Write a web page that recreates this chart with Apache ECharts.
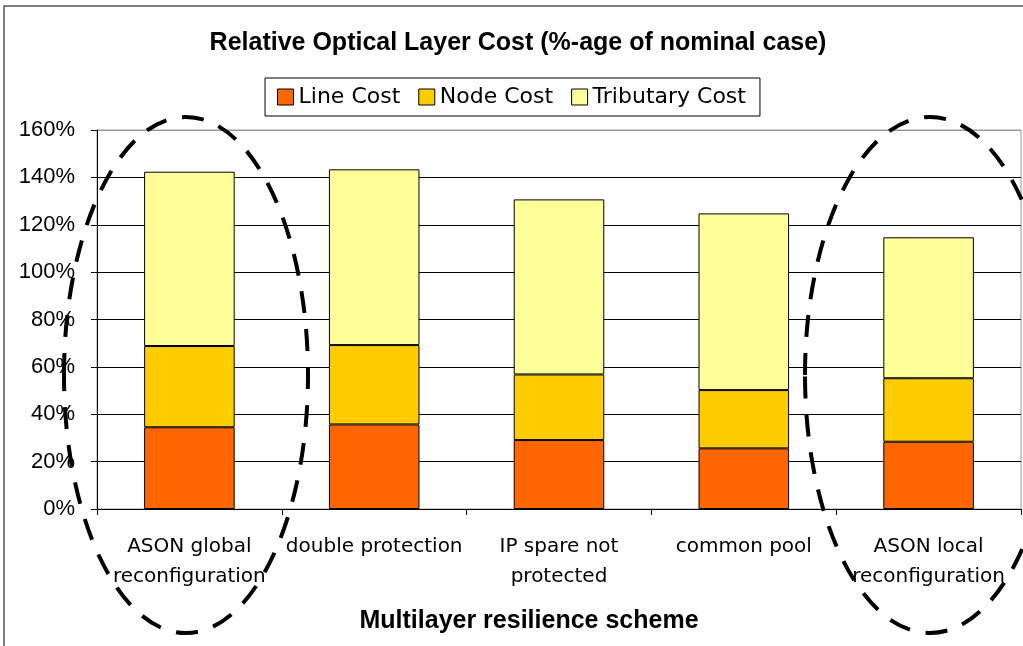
<!DOCTYPE html>
<html><head><meta charset="utf-8">
<script src="https://cdn.jsdelivr.net/npm/echarts@6/dist/echarts.min.js"></script>
<style>html,body{margin:0;padding:0;background:#fff}#c{width:1023px;height:646px}</style>
</head><body><div id="c"></div>
<script>
const categories = ['ASON global\nreconfiguration','double protection','IP spare not\nprotected','common pool','ASON local\nreconfiguration'];
const lineCost = [34.5, 35.7, 29.1, 25.6, 28.4];
const nodeCost = [34.3, 33.5, 27.7, 24.6, 26.8];
const tributaryCost = [73.6, 74.2, 73.9, 74.6, 59.5];
const seriesNames = ['Line Cost','Node Cost','Tributary Cost'];
const colors = ['#FF6600','#FFCC00','#FFFF99'];

const chart = echarts.init(document.getElementById('c'));
const font = 'Liberation Sans, Arial, sans-serif';
const wide = 'DejaVu Sans, sans-serif';
const mk = (name, data, color) => ({
  name, type:'bar', stack:'total', data, barWidth:'49%',
  itemStyle:{color, borderColor:'#000', borderWidth:1},
  emphasis:{disabled:true}
});
chart.setOption({
  animation:false,
  title:[
    {text:'Relative Optical Layer Cost (%-age of nominal case)', left:513, top:26, textAlign:'center',
     textStyle:{fontFamily:font, fontWeight:'bold', fontSize:25, color:'#000'}},
    {text:'Multilayer resilience scheme', left:524, top:604, textAlign:'center',
     textStyle:{fontFamily:font, fontWeight:'bold', fontSize:25, color:'#000'}}
  ],
  legend:{data:seriesNames, left:'center', top:78, padding:[8,14,8,12],
    borderColor:'#000', borderWidth:1, itemGap:18, itemWidth:16, itemHeight:16,
    icon:'rect', textStyle:{fontFamily:wide, fontSize:22, color:'#000', padding:[0,0,0,0]},
    itemStyle:{borderColor:'#000', borderWidth:1}},
  grid:{left:97, right:2, top:130, bottom:137, show:true, borderColor:'#999', borderWidth:1, containLabel:false},
  xAxis:{type:'category', data:categories,
    axisLine:{lineStyle:{color:'#000'}}, axisTick:{show:true, length:6, lineStyle:{color:'#000'}},
    axisLabel:{fontFamily:wide, fontSize:20, color:'#000', margin:23, lineHeight:30, interval:0}},
  yAxis:{type:'value', min:0, max:160, interval:20,
    axisLine:{show:true, lineStyle:{color:'#000'}}, axisTick:{show:true, length:6, lineStyle:{color:'#000'}},
    axisLabel:{formatter:'{value}%', fontFamily:font, fontSize:22, color:'#000', margin:22},
    splitLine:{lineStyle:{color:['#000','#000','#000','#000','#000','#000','#000','#000','#999'], width:1}}},
  series:[mk(seriesNames[0], lineCost, colors[0]), mk(seriesNames[1], nodeCost, colors[1]), mk(seriesNames[2], tributaryCost, colors[2])],
  graphic:[
    {type:'rect', shape:{x:4, y:6, width:1040, height:700}, style:{fill:'none', stroke:'#555', lineWidth:1.5}, silent:true},
    {type:'ellipse', shape:{cx:186, cy:375, rx:122, ry:258}, style:{fill:'none', stroke:'#000', lineWidth:4, lineDash:[22,16]}, silent:true, z:100},
    {type:'ellipse', shape:{cx:930, cy:375, rx:125, ry:258}, style:{fill:'none', stroke:'#000', lineWidth:4, lineDash:[22,16]}, silent:true, z:100}
  ]
});
</script></body></html>
